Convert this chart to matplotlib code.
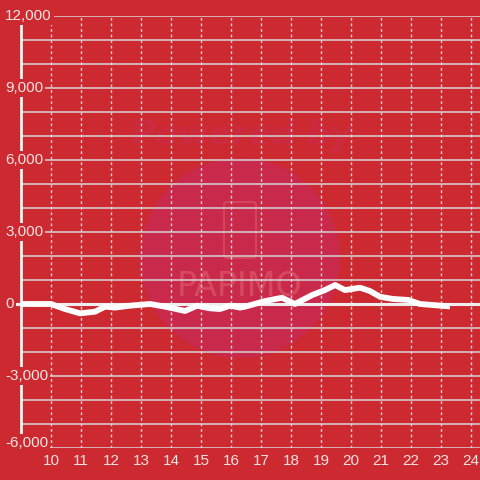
import matplotlib
matplotlib.use("Agg")
import matplotlib.pyplot as plt
from matplotlib.patches import Circle, FancyBboxPatch
from matplotlib.transforms import blended_transform_factory, offset_copy

# hour of day vs value
hours = [9.0, 9.5, 10.0, 10.47, 10.97, 11.47, 11.8, 12.13, 12.63, 13.3, 13.8,
         14.47, 14.87, 15.3, 15.63, 15.97, 16.3, 16.47, 17.13, 17.7, 18.13,
         18.7, 19.13, 19.47, 19.8, 20.3, 20.63, 20.97, 21.4, 21.9, 22.3, 23.3]
values = [0, 0, 0, -210, -390, -320, -110, -150, -70, 0, -110,
          -290, -70, -180, -210, -70, -150, -110, 120, 260, 0,
          370, 580, 790, 580, 680, 540, 300, 210, 170, 0, -100]

x_ticks = list(range(10, 25))
y_labels = [12000, 9000, 6000, 3000, 0, -3000, -6000]

bg = '#cc2a30'
txt = '#f3e4e4'
plt.rcParams['font.family'] = ['Liberation Sans', 'DejaVu Sans']

fig = plt.figure(figsize=(4.8, 4.8), dpi=100, facecolor=bg)
ax = fig.add_axes([21/480, 32/480, 459/480, 432/480])
ax.set_facecolor(bg)
ax.set_xlim(9.0, 24.3)
ax.set_ylim(-6000, 12000)

# watermark, under the grid
ft = fig.transFigure
ax.add_patch(Circle((240/480, 1-258/480), 100/480, transform=ft,
                    facecolor='#c9294a', edgecolor='none', zorder=0.2))
ax.add_patch(FancyBboxPatch((224/480, 1-258/480), 32/480, 56/480,
                            boxstyle='round,pad=0,rounding_size=0.006',
                            transform=ft, facecolor='none',
                            edgecolor='#d84a62', lw=1.2, zorder=0.3))
ax.text(242/480, 1-136/480, 'Powered by', transform=ft, ha='center', va='center',
        fontsize=24, fontweight='bold', fontstyle='italic', color='#cb2a40',
        zorder=0.3, family='DejaVu Sans')
ax.text(240/480, 1-287/480, 'PAPIMO', transform=ft, ha='center', va='center',
        fontsize=24, color='#d6495f', zorder=0.3, family='DejaVu Sans')

# grid
ax.set_yticks(range(-6000, 12001, 1000))
ax.set_xticks(x_ticks)
ax.grid(axis='y', color='#d6d6d6', lw=1.1, ls='-', zorder=1)
ax.grid(axis='x', color='#dddddd', lw=1.0, ls=(0, (2, 2)), zorder=1)
ax.set_axisbelow('line')
ax.tick_params(axis='y', length=0, labelleft=False)
ax.tick_params(axis='x', length=0, pad=4, colors=txt, labelsize=11)
for s in ['top', 'right', 'bottom']:
    ax.spines[s].set_visible(False)
ax.spines['left'].set_color('#eeeeee')
ax.spines['left'].set_linewidth(2)

# zero line
ax.plot([8.87, 24.3], [0, 0], color='#eeeeee', lw=2.2, clip_on=False, zorder=3)
# data line
ax.plot(hours, values, color='white', lw=4.2, solid_joinstyle='round',
        solid_capstyle='butt', zorder=4)

tr = blended_transform_factory(fig.transFigure, ax.transData)
for v in y_labels:
    t = tr if v != -6000 else offset_copy(tr, fig=fig, y=5, units='dots')
    ax.text(5/480, v, f'{v:,}', transform=t, ha='left', va='center', fontsize=11,
            color=txt, zorder=5,
            bbox=dict(facecolor=bg, edgecolor='none', pad=1.5))

fig.savefig('out.png', dpi=100, facecolor=bg)
